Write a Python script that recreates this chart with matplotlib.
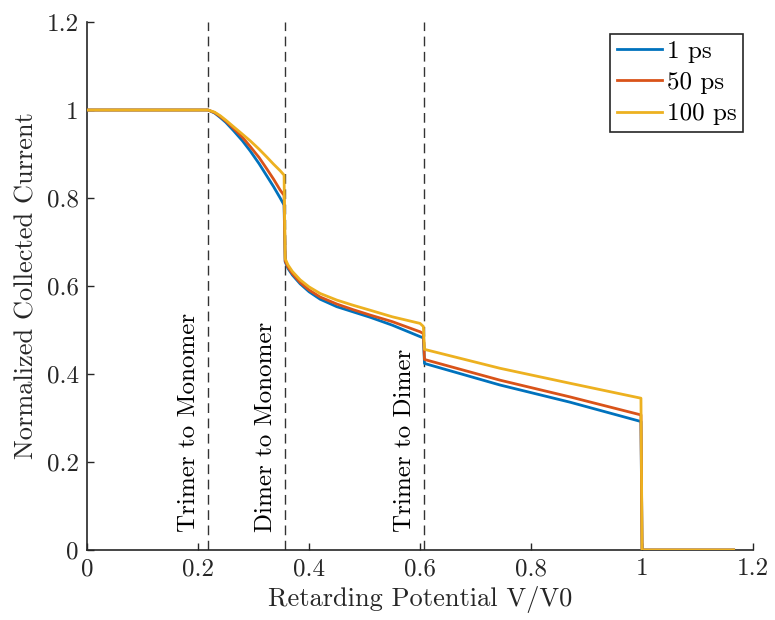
import matplotlib
matplotlib.use("Agg")
import matplotlib.pyplot as plt
from matplotlib.ticker import FuncFormatter

plt.rcParams["font.family"] = "serif"
plt.rcParams["font.serif"] = ["cmr10", "DejaVu Serif"]
plt.rcParams["mathtext.fontset"] = "cm"
plt.rcParams["axes.formatter.use_mathtext"] = True

# Retarding potential grid (V/V0)
potential = [0.0, 0.218, 0.23, 0.24, 0.25, 0.264, 0.28, 0.294, 0.31, 0.324, 0.336,
             0.348, 0.355, 0.357, 0.362, 0.37, 0.384, 0.40, 0.42, 0.45, 0.48,
             0.51, 0.55, 0.60, 0.606, 0.608, 0.744, 0.87, 0.998, 1.0, 1.165]

# Normalized collected current for each time
current_1ps = [1.0, 1.0, 0.993, 0.983, 0.972, 0.953, 0.930, 0.907, 0.878, 0.850, 0.826,
               0.800, 0.784, 0.655, 0.640, 0.625, 0.605, 0.587, 0.570, 0.553, 0.541,
               0.529, 0.511, 0.485, 0.482, 0.424, 0.375, 0.336, 0.292, 0.0, 0.0]
current_50ps = [1.0, 1.0, 0.994, 0.985, 0.975, 0.958, 0.938, 0.917, 0.892, 0.866, 0.843,
                0.818, 0.806, 0.657, 0.643, 0.628, 0.608, 0.591, 0.575, 0.559, 0.546,
                0.534, 0.519, 0.496, 0.492, 0.433, 0.386, 0.348, 0.307, 0.0, 0.0]
current_100ps = [1.0, 1.0, 0.995, 0.987, 0.977, 0.962, 0.945, 0.930, 0.911, 0.893, 0.877,
                 0.862, 0.852, 0.662, 0.648, 0.633, 0.614, 0.598, 0.583, 0.568, 0.556,
                 0.545, 0.530, 0.515, 0.508, 0.456, 0.413, 0.379, 0.345, 0.0, 0.0]

series_labels = ["1 ps", "50 ps", "100 ps"]
series_colors = ["#0072BD", "#D95319", "#EDB120"]

# Fragmentation thresholds
threshold_pos = [0.218, 0.357, 0.607]
threshold_text = ["Trimer to Monomer", "Dimer to Monomer", "Trimer to Dimer"]

ticks = [0, 0.2, 0.4, 0.6, 0.8, 1, 1.2]

fig = plt.figure(figsize=(7.75, 6.2), dpi=100)
ax = fig.add_axes([0.1123, 0.1129, 0.8594, 0.8516])

axis_color = "#262626"

for xv in threshold_pos:
    ax.plot([xv, xv], [0, 1.2], color="#333333", linestyle=(0, (7, 4)),
            linewidth=1.0, zorder=1)

for ys, lab, col in zip([current_1ps, current_50ps, current_100ps],
                        series_labels, series_colors):
    ax.plot(potential, ys, color=col, linewidth=2.0, label=lab, zorder=3)

for xv, txt in zip(threshold_pos, threshold_text):
    ax.text(xv - 0.035, 0.04, txt, rotation=90, ha="center", va="bottom",
            fontsize=18, color="black")

ax.set_xlim(0, 1.2)
ax.set_ylim(0, 1.2)
ax.set_xticks(ticks)
ax.set_yticks(ticks)
fmt = FuncFormatter(lambda v, p: "%g" % round(v, 3))
ax.xaxis.set_major_formatter(fmt)
ax.yaxis.set_major_formatter(fmt)

for side in ["top", "right"]:
    ax.spines[side].set_visible(False)
for side in ["left", "bottom"]:
    ax.spines[side].set_color(axis_color)
    ax.spines[side].set_linewidth(1.2)

ax.tick_params(direction="in", length=5, width=1.0, colors=axis_color,
               labelsize=18, pad=6)

ax.set_xlabel("Retarding Potential V/V0", fontsize=19, color=axis_color, labelpad=4)
ax.set_ylabel("Normalized Collected Current", fontsize=19, color=axis_color, labelpad=6)

leg = ax.legend(loc="upper right", bbox_to_anchor=(0.9845, 0.977),
                borderaxespad=0, fontsize=18, frameon=True, fancybox=False,
                framealpha=1, edgecolor="#262626", handlelength=1.8,
                handletextpad=0.2, labelspacing=0.35, borderpad=0.25)
leg.get_frame().set_linewidth(1.2)

fig.savefig("out.png", dpi=100)
